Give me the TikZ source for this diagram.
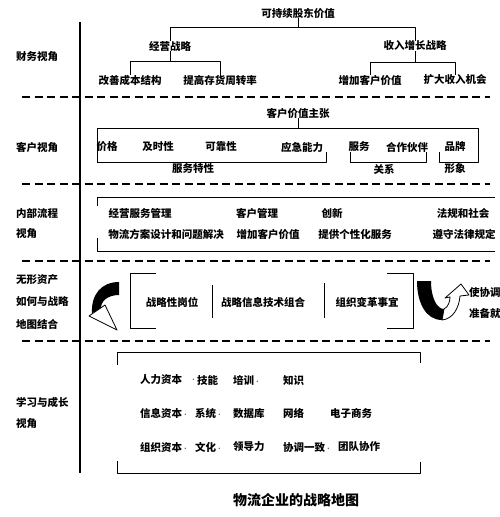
\documentclass[tikz,border=0pt]{standalone}
\usepackage{fontspec}
\setmainfont{Noto Sans CJK SC}
\newcommand\dt{\,$\cdot$}
\begin{document}
\begin{tikzpicture}[x=1pt,y=-1pt,line join=round,font=\fontsize{10.5}{12}\selectfont\bfseries,
	txt/.style={inner sep=0pt},lt/.style={inner sep=0pt,anchor=west},
	sep/.style={line width=1.6pt,dash pattern=on 8pt off 4.5pt},br/.style={line width=1pt}]
	\useasboundingbox (0,0) rectangle (500,517);
	% 左侧视角
	\foreach \t/\y[count=\i] in {财务视角/57,客户视角/147,内部流程/213,视角/234,无形资产/280,如何与战略/302,地图结合/324,学习与成长/402,视角/424}
	\node[lt](v\i) at (16,\y) {\t};
	\foreach \y in {97,184,261,341}\draw[sep](22,\y)--(490,\y);
	\draw[line width=1.6pt](80,22)--(80,473);
	% 财务
	\node[txt](gd) at (298,13) {可持续股东价值};
	\node[txt](jy) at (170,46) {经营战略};
	\node[txt](sr) at (415,46) {收入增长战略};
	\node[txt](gs) at (130,80) {改善成本结构};
	\node[txt](tg) at (220,80) {提高存货周转率};
	\node[txt](zj) at (370,80) {增加客户价值};
	\node[txt](kd) at (455,80) {扩大收入机会};
	\draw[br](gd.south)--(gd.south|-0,27);
	\draw[br](jy.north)|-(sr.north|-0,27)--(sr.north);
	\draw[br](jy.south)--(jy.south|-0,61);
	\draw[br](gs.north)|-(tg.north|-0,61)--(tg.north);
	\draw[br](sr.south)--(sr.south|-0,62);
	\draw[br](zj.north)|-(kd.north|-0,62)--(kd.north);
	% 客户
	\node[txt](kz) at (298,113) {客户价值主张};
	\draw[br](kz.south)--(kz.south|-0,128);
	\draw[br](97,162)|-(478,128)--(478,162)--(439,162)--(439,152);
	\draw[br](97,162)--(326,162)--(326,152);
	\draw[br](350,152)--(350,162)--(426,162)--(426,152);
	\foreach \t/\x[count=\i] in {价格/107,及时性/158,可靠性/221,应急能力/302,服务/359,合作伙伴/407,品牌/455}
	\node[txt](k\i) at (\x,147) {\t};
	\foreach \t/\x[count=\i] in {服务特性/193,关系/384,形象/455}
	\node[txt](g\i) at (\x,169) {\t};
	% 内部流程
	\draw[br](97,206)--(97,197)--(495,197);
	\draw[br](97,238)--(97,251)--(495,251);
	\foreach \t/\x[count=\i] in {经营服务管理/140,客户管理/257,创新/332,法规和社会/463}
	\node[txt](p\i) at (\x,213) {\t};
	\foreach \t/\x[count=\i] in {物流方案设计和问题解决/166,增加客户价值/268,提供个性化服务/355,遵守法律规定/464}
	\node[txt](q\i) at (\x,234) {\t};
	% 无形资产
	\draw[br](156,273)--(130,273)--(130,328)--(156,328);
	\draw[br](387,273)--(413,273)--(413,328)--(387,328);
	\draw[br](212,285)--(212,318);
	\draw[br](324,283)--(324,318);
	\foreach \t/\x[count=\i] in {战略性岗位/172,战略信息技术组合/263,组织变革事宜/367}
	\node[txt](w\i) at (\x,302) {\t};
	\node[lt](s1) at (469,292) {使协调};
	\node[lt](s2) at (469,313) {准备就};
	\fill(119,282)..controls(101,282)and(91,295)..(92,313)--(101,310)..controls(100,301)and(108,295)..(119,295)--cycle;
	\draw[fill=white,line width=.8pt](89,316)--(105,305)--(117,330)--cycle;
	\draw[fill=white,line width=.8pt](444,309)..controls(448,307)and(450,302)..(450,297)--(445,298)--(461,284)--(469,295)--(460,296)..controls(459,308)and(453,319)..(442,320)--cycle;
	\fill(417,281)--(431,281)..controls(431,298)and(437,309)..(444,309)--(442,320)..controls(426,320)and(417,303)..(417,281)--cycle;
	% 学习与成长
	\draw[br](117,365)--(117,352)--(420,352)--(420,363);
	\draw[br](117,461)--(117,473)--(420,473)--(420,462);
	\foreach \t/\x[count=\i] in {人力资本/140,\dt/190,技能/197,培训\dt/233,知识/283}
	\node[lt](a\i) at (\x,380) {\t};
	\foreach \t/\x[count=\i] in {信息资本\dt/140,系统\dt/195,数据库/233,网络/283,电子商务/330}
	\node[lt](b\i) at (\x,413) {\t};
	\foreach \t/\x[count=\i] in {组织资本\dt/140,文化\dt/195,领导力/233,协调一致\dt/283,团队协作/338}
	\node[lt](c\i) at (\x,447) {\t};
	\node[txt,font=\fontsize{14}{16}\selectfont\bfseries](tt) at (296,500) {物流企业的战略地图};
\end{tikzpicture}
\end{document}
